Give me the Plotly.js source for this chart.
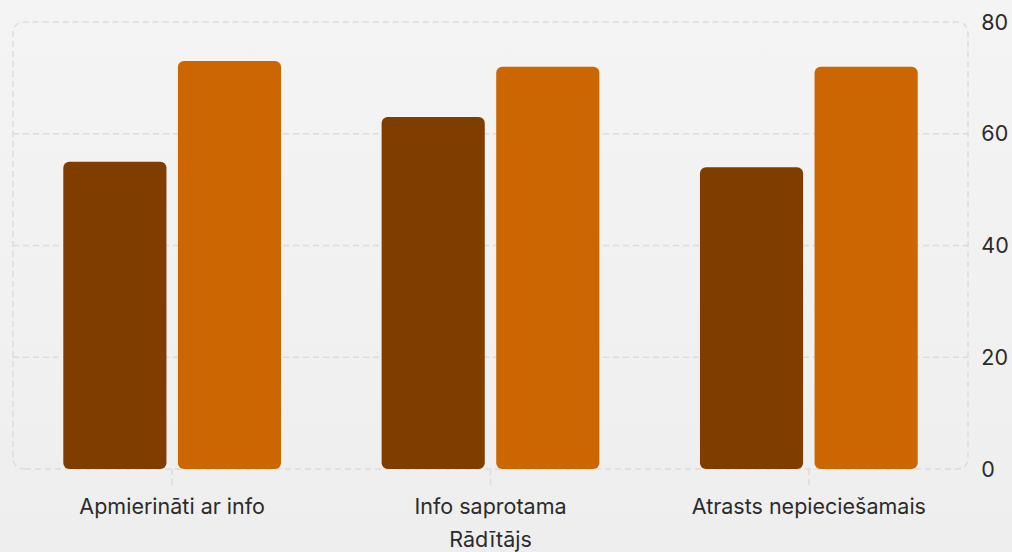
<!DOCTYPE html>
<html>
<head>
<meta charset="utf-8">
<script src="https://cdn.plot.ly/plotly-3.0.1.min.js"></script>
<style>
  html, body { margin: 0; padding: 0; }
  body { width: 1012px; height: 552px; background: linear-gradient(180deg, #f4f4f4 0%, #f1f1f1 55%, #eeeeee 100%); }
  #chart { width: 1012px; height: 552px; }
</style>
</head>
<body>
<div id="chart"></div>
<script>
// Survey indicators (%), two groups compared side by side
const categories = ['Apmierināti ar info', 'Info saprotama', 'Atrasts nepieciešamais'];
const groupA = [55, 63, 54];
const groupB = [73, 72, 72];
const yTickVals = [0, 20, 40, 60, 80];
const yTickText = ['0', '20', '40', '60', '80'];

const colorA = '#803d00';
const colorB = '#cc6600';
const gridColor = '#dcdcdc';
const dashPattern = '6px,4px';
const textColor = '#2b2b2b';
const fontSize = 21.5;

// An explicit zero base gives the bars rounded corners at both ends
function barTrace(values, color) {
  return {
    type: 'bar', x: categories, y: values,
    base: values.map(() => 0),
    marker: { color: color, line: { width: 0 } },
    hovertemplate: '%{x}: %{y}<extra></extra>',
    showlegend: false
  };
}

const traces = [barTrace(groupA, colorA), barTrace(groupB, colorB)];

// Rounded dashed frame around the plotting area
const plotW = 1012 - 13 - 44, plotH = 552 - 22 - 83, r = 12;
const rx = r / plotW, ry = r / plotH;
const framePath = `M ${rx},0 L ${1 - rx},0 Q 1,0 1,${ry} L 1,${1 - ry} Q 1,1 ${1 - rx},1 ` +
                  `L ${rx},1 Q 0,1 0,${1 - ry} L 0,${ry} Q 0,0 ${rx},0 Z`;

const shapes = [{
  type: 'path', xref: 'paper', yref: 'paper', path: framePath, layer: 'below',
  line: { color: gridColor, width: 1.5, dash: dashPattern }
}];

// Horizontal grid lines inside the frame
yTickVals.filter(v => v > yTickVals[0] && v < yTickVals[yTickVals.length - 1]).forEach(v => {
  shapes.push({
    type: 'line', xref: 'paper', yref: 'y', x0: 0, x1: 1, y0: v, y1: v, layer: 'below',
    line: { color: gridColor, width: 1.5, dash: dashPattern }
  });
});

// Short dashed tick marks under each category
categories.forEach(c => {
  shapes.push({
    type: 'line', xref: 'x', yref: 'paper', x0: c, x1: c, y0: 0, y1: -0.04, layer: 'below',
    line: { color: gridColor, width: 1.5, dash: dashPattern }
  });
});

const layout = {
  width: 1012, height: 552,
  margin: { l: 13, r: 44, t: 22, b: 83 },
  paper_bgcolor: 'rgba(0,0,0,0)',
  plot_bgcolor: 'rgba(0,0,0,0)',
  font: { family: 'Inter, "Noto Sans", sans-serif', size: fontSize, color: textColor },
  barmode: 'group',
  bargap: 0.28,
  bargroupgap: 0.1,
  barcornerradius: 6,
  showlegend: false,
  xaxis: {
    type: 'category',
    showgrid: false, zeroline: false, showline: false,
    ticks: 'outside', ticklen: 18, tickcolor: 'rgba(0,0,0,0)',
    tickfont: { size: fontSize, color: textColor },
    title: { text: 'Rādītājs', font: { size: fontSize, color: textColor }, standoff: 15 }
  },
  yaxis: {
    side: 'right',
    range: [0, 80],
    tickmode: 'array', tickvals: yTickVals, ticktext: yTickText,
    showgrid: false, zeroline: false, showline: false,
    ticks: 'outside', ticklen: 8, tickcolor: 'rgba(0,0,0,0)',
    tickfont: { size: fontSize, color: textColor }
  },
  shapes: shapes
};

Plotly.newPlot('chart', traces, layout, { displayModeBar: false, staticPlot: true });
</script>
</body>
</html>
